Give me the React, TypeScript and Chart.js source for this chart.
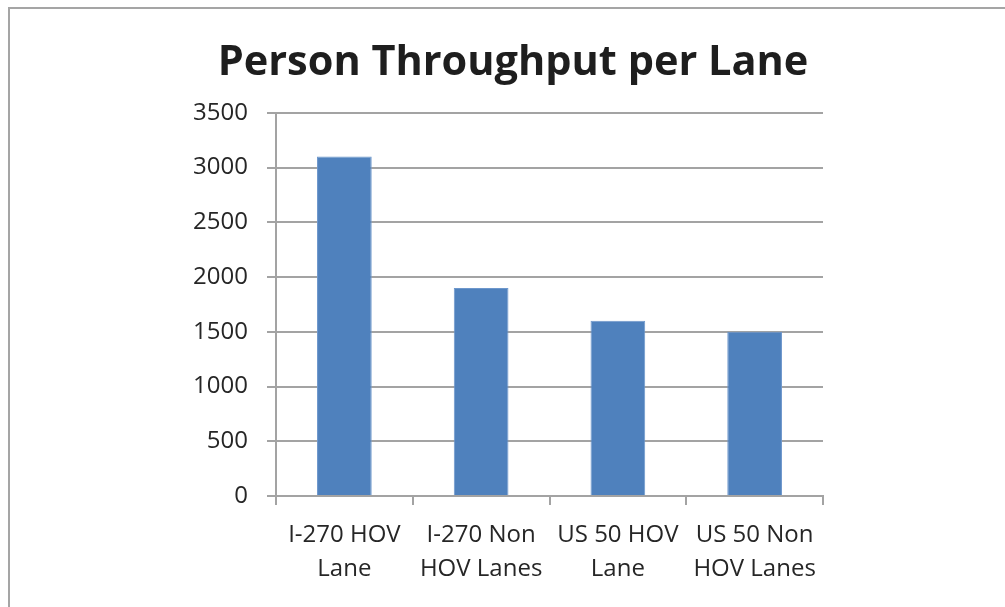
import React, { useEffect, useRef } from "react";
import { Chart, registerables } from "chart.js";

Chart.register(...registerables);

const categories: string[][] = [
  ["I-270 HOV", "Lane"],
  ["I-270 Non", "HOV Lanes"],
  ["US 50 HOV", "Lane"],
  ["US 50 Non", "HOV Lanes"],
];
const throughput: number[] = [3100, 1900, 1600, 1500];
const yMin = 0;
const yMax = 3500;
const yStep = 500;

const FONT = "'Open Sans', 'DejaVu Sans', sans-serif";

// Grey frame around the whole chart
const framePlugin = {
  id: "frame",
  beforeDraw(chart: Chart) {
    const ctx = chart.ctx;
    ctx.save();
    ctx.strokeStyle = "#a5a5a5";
    ctx.lineWidth = 2;
    ctx.strokeRect(9, 8, chart.width + 20, chart.height + 20);
    ctx.restore();
  },
};

// Let the y tick labels extend past the narrow axis box without being clipped
const wideLabelsPlugin = {
  id: "wideLabels",
  afterLayout(chart: Chart) {
    const y: any = chart.scales.y;
    if (y) y.left = 0;
  },
};

export default function App() {
  const canvasRef = useRef<HTMLCanvasElement | null>(null);

  useEffect(() => {
    if (!canvasRef.current) return;
    const chart = new Chart(canvasRef.current, {
      type: "bar",
      data: {
        labels: categories,
        datasets: [
          {
            label: "Person Throughput",
            data: throughput,
            backgroundColor: "#4f81bd",
            borderColor: "#6d97cc",
            borderWidth: 1,
            categoryPercentage: 1,
            barPercentage: 0.4,
          },
        ],
      },
      options: {
        animation: false,
        responsive: false,
        maintainAspectRatio: false,
        layout: { padding: { left: 203, right: 182, top: 0, bottom: 0 } },
        plugins: {
          legend: { display: false },
          tooltip: { enabled: false },
          title: {
            display: true,
            text: "Person Throughput per Lane",
            color: "#1e1e1e",
            font: { family: FONT, size: 41.5, weight: "bold", lineHeight: 1.2 },
            padding: { top: 38, bottom: 25 },
          },
        },
        scales: {
          x: {
            afterFit(scale: any) {
              scale.height = 111;
            },
            grid: {
              display: true,
              drawOnChartArea: false,
              drawTicks: true,
              tickLength: 9,
              offset: true,
              color: "#a3a3a3",
              lineWidth: 2,
            },
            border: { display: true, color: "#a3a3a3", width: 2 },
            ticks: {
              color: "#262626",
              padding: 13,
              maxRotation: 0,
              autoSkip: false,
              font: { family: FONT, size: 24, lineHeight: 1.42 },
            },
          },
          y: {
            min: yMin,
            max: yMax,
            afterFit(scale: any) {
              scale.width = 73;
            },
            grid: {
              color: "#a3a3a3",
              lineWidth: 2,
              drawTicks: true,
              tickLength: 9,
            },
            border: { display: true, color: "#a3a3a3", width: 2 },
            ticks: {
              stepSize: yStep,
              color: "#262626",
              padding: 19,
              font: { family: FONT, size: 24 },
              callback: (v: any) => String(v),
            },
          },
        },
      },
      plugins: [framePlugin, wideLabelsPlugin],
    });
    return () => chart.destroy();
  }, []);

  return (
    <div style={{ position: "fixed", left: 0, top: 0, width: 1005, height: 607, background: "#ffffff" }}>
      <canvas ref={canvasRef} width={1005} height={607} />
    </div>
  );
}
